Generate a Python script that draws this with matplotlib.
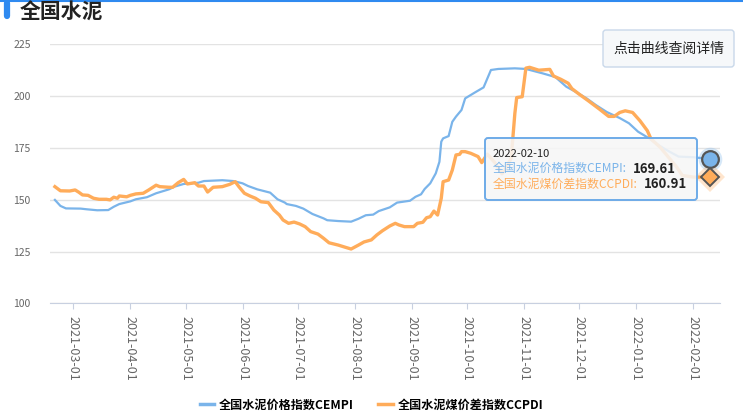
import matplotlib
matplotlib.use('Agg')
import matplotlib.pyplot as plt
import matplotlib.dates as mdates
from matplotlib.lines import Line2D
from matplotlib.patches import FancyBboxPatch
import pandas as pd

# ---------------- data ----------------
cempi_dates = [
    '2021-02-19', '2021-02-22', '2021-02-25', '2021-03-05', '2021-03-08', '2021-03-14',
    '2021-03-20', '2021-03-23', '2021-03-26', '2021-04-01', '2021-04-04', '2021-04-10',
    '2021-04-15', '2021-04-22', '2021-04-25', '2021-04-30', '2021-05-08', '2021-05-11',
    '2021-05-21', '2021-05-27', '2021-06-01', '2021-06-04', '2021-06-09', '2021-06-16',
    '2021-06-20', '2021-06-24', '2021-06-25', '2021-06-30', '2021-07-04', '2021-07-09',
    '2021-07-15', '2021-07-17', '2021-07-23', '2021-07-30', '2021-08-03', '2021-08-07',
    '2021-08-11', '2021-08-14', '2021-08-20', '2021-08-24', '2021-08-31', '2021-09-03',
    '2021-09-06', '2021-09-08', '2021-09-11', '2021-09-14', '2021-09-16', '2021-09-17',
    '2021-09-18', '2021-09-21', '2021-09-23', '2021-09-25', '2021-09-28', '2021-09-30',
    '2021-10-05', '2021-10-10', '2021-10-14', '2021-10-18', '2021-10-27', '2021-11-02',
    '2021-11-11', '2021-11-18', '2021-11-24', '2021-11-29', '2021-12-05', '2021-12-10',
    '2021-12-16', '2021-12-23', '2021-12-28', '2022-01-02', '2022-01-08', '2022-01-13',
    '2022-01-19', '2022-01-24', '2022-02-01', '2022-02-10',
]
cempi_vals = [
    149.9, 147.0, 145.8, 145.7, 145.4, 144.9,
    145.0, 146.6, 147.9, 149.2, 150.2, 151.2,
    153.1, 155.0, 156.3, 157.6, 158.2, 159.0,
    159.4, 159.0, 157.9, 156.6, 155.0, 153.4,
    150.2, 148.6, 147.9, 147.0, 145.7, 143.1,
    141.0, 140.1, 139.7, 139.4, 140.8, 142.5,
    142.8, 144.5, 146.3, 148.6, 149.5, 151.4,
    152.6, 155.2, 157.9, 162.7, 168.3, 178.0,
    179.6, 180.7, 187.6, 190.1, 193.3, 198.9,
    201.6, 204.2, 212.6, 213.1, 213.4, 213.1,
    211.0, 209.2, 204.5, 202.1, 198.9, 195.7,
    192.3, 189.4, 186.9, 182.8, 179.6, 176.4,
    173.2, 170.8, 170.5, 169.61,
]

ccpdi_dates = [
    '2021-02-19', '2021-02-22', '2021-02-27', '2021-03-02', '2021-03-04', '2021-03-06',
    '2021-03-09', '2021-03-12', '2021-03-15', '2021-03-19', '2021-03-21', '2021-03-23',
    '2021-03-25', '2021-03-26', '2021-03-30', '2021-04-01', '2021-04-04', '2021-04-08',
    '2021-04-11', '2021-04-15', '2021-04-17', '2021-04-22', '2021-04-24', '2021-04-27',
    '2021-04-30', '2021-05-02', '2021-05-06', '2021-05-08', '2021-05-11', '2021-05-13',
    '2021-05-16', '2021-05-21', '2021-05-25', '2021-05-28', '2021-05-30', '2021-06-02',
    '2021-06-05', '2021-06-08', '2021-06-11', '2021-06-15', '2021-06-18', '2021-06-21',
    '2021-06-23', '2021-06-26', '2021-06-29', '2021-07-02', '2021-07-05', '2021-07-08',
    '2021-07-12', '2021-07-15', '2021-07-18', '2021-07-23', '2021-07-27', '2021-07-30',
    '2021-08-03', '2021-08-06', '2021-08-10', '2021-08-13', '2021-08-16', '2021-08-20',
    '2021-08-23', '2021-08-25', '2021-08-28', '2021-09-02', '2021-09-04', '2021-09-07',
    '2021-09-09', '2021-09-11', '2021-09-13', '2021-09-15', '2021-09-17', '2021-09-18',
    '2021-09-21', '2021-09-23', '2021-09-25', '2021-09-27', '2021-09-28', '2021-09-30',
    '2021-10-03', '2021-10-07', '2021-10-09', '2021-10-12', '2021-10-16', '2021-10-20',
    '2021-10-22', '2021-10-25', '2021-10-27', '2021-10-28', '2021-10-31', '2021-11-02',
    '2021-11-04', '2021-11-09', '2021-11-15', '2021-11-17', '2021-11-21', '2021-11-25',
    '2021-11-27', '2021-12-01', '2021-12-06', '2021-12-12', '2021-12-17', '2021-12-20',
    '2021-12-23', '2021-12-26', '2021-12-30', '2022-01-03', '2022-01-07', '2022-01-09',
    '2022-01-14', '2022-01-17', '2022-01-20', '2022-01-23', '2022-01-26', '2022-02-01',
    '2022-02-10',
]
ccpdi_vals = [
    156.3, 154.3, 154.2, 154.7, 153.6, 152.3,
    152.1, 150.7, 150.2, 150.2, 149.9, 151.2,
    150.7, 151.8, 151.4, 152.1, 152.8, 153.1,
    154.7, 157.0, 156.3, 156.0, 156.0, 158.2,
    159.8, 157.6, 158.2, 156.6, 156.6, 153.7,
    156.0, 156.3, 157.4, 158.7, 156.3, 153.1,
    151.8, 150.7, 149.0, 148.6, 145.0, 142.6,
    140.2, 138.6, 139.2, 138.3, 137.0, 134.6,
    133.4, 131.4, 129.2, 128.1, 127.0, 126.2,
    128.1, 129.6, 130.6, 133.0, 135.0, 137.3,
    138.6, 137.8, 137.0, 137.0, 138.6, 139.1,
    141.3, 141.8, 144.5, 142.6, 150.7, 158.7,
    159.5, 164.3, 171.6, 171.9, 173.2, 173.2,
    172.4, 170.8, 167.9, 172.0, 168.0, 162.5,
    165.0, 170.0, 191.7, 199.3, 199.7, 213.5,
    213.9, 212.5, 212.9, 209.7, 208.1, 206.2,
    203.6, 200.9, 197.7, 193.7, 190.2, 190.2,
    192.1, 192.9, 192.1, 188.1, 183.3, 179.3,
    175.3, 172.1, 168.9, 165.7, 161.7, 160.9,
    160.91,
]

series_names = ['全国水泥价格指数CEMPI', '全国水泥煤价差指数CCPDI']
y_ticks = [100, 125, 150, 175, 200, 225]
month_ticks = pd.date_range('2021-03-01', '2022-02-01', freq='MS')

# ---------------- style ----------------
W, H = 743, 419
BLUE = '#7ab4ea'
ORANGE = '#ffac5a'
plt.rcParams['font.family'] = ['Noto Sans CJK SC', 'DejaVu Sans']

fig = plt.figure(figsize=(W / 100, H / 100), dpi=100)
ax = fig.add_axes([50 / W, 1 - 303.3 / H, 670 / W, 259 / H])

d1 = pd.to_datetime(cempi_dates)
d2 = pd.to_datetime(ccpdi_dates)
ax.plot(d1, cempi_vals, color=BLUE, lw=1.6, zorder=3)
ax.plot(d2, ccpdi_vals, color=ORANGE, lw=2.4, zorder=3)

# end-point markers with halo
ax.plot(d1[-1], cempi_vals[-1], 'o', ms=17, color=BLUE, alpha=0.3, mew=0, clip_on=False, zorder=5)
ax.plot(d1[-1], cempi_vals[-1], 'o', ms=12, mfc=BLUE, mec='#555555', mew=1.6, clip_on=False, zorder=6)
ax.plot(d2[-1], ccpdi_vals[-1], 'D', ms=15, color=ORANGE, alpha=0.3, mew=0, clip_on=False, zorder=5)
ax.plot(d2[-1], ccpdi_vals[-1], 'D', ms=9, mfc=ORANGE, mec='#555555', mew=1.4, clip_on=False, zorder=6)

ax.set_ylim(100, 225)
ax.set_xlim(pd.Timestamp('2021-02-16 08:00'), pd.Timestamp('2022-02-15 12:00'))
ax.set_yticks(y_ticks)
ax.set_xticks(month_ticks)
ax.xaxis.set_major_formatter(mdates.DateFormatter('%Y-%m-%d'))
ax.grid(axis='y', color='#e3e3e3', lw=1)
ax.set_axisbelow(True)
for s in ['top', 'right', 'left']:
    ax.spines[s].set_visible(False)
ax.spines['bottom'].set_color('#c8d0e0')
ax.tick_params(axis='y', length=0, pad=14, labelsize=7.5, labelcolor='#666666')
ax.tick_params(axis='x', length=4, color='#c8d0e0', pad=5, labelsize=9, labelcolor='#666666')
for lbl in ax.get_xticklabels():
    lbl.set_rotation(270)
    lbl.set_va('top')
    lbl.set_ha('center')

# ---------------- overlay in pixel coordinates ----------------
ov = fig.add_axes([0, 0, 1, 1], zorder=10)
ov.set_xlim(0, W)
ov.set_ylim(H, 0)
ov.axis('off')

ov.add_line(Line2D([0, W], [0.6, 0.6], lw=1.5, color='#2f8af0'))
ov.add_line(Line2D([6.5, 6.5], [3, 16], lw=4.5, color='#2f8af0', solid_capstyle='round'))
ov.text(20, 12, '全国水泥', fontsize=15, fontweight='bold', color='#222222', va='center')

ov.add_patch(FancyBboxPatch((603, 30), 131, 37, boxstyle='round,pad=0,rounding_size=3',
                            fc='#f6f8fa', ec='#c9d8ea', lw=1))
ov.text(668.5, 48.5, '点击曲线查阅详情', fontsize=10, color='#222222', ha='center', va='center')

# tooltip
ov.add_patch(FancyBboxPatch((485, 138), 212, 62, boxstyle='round,pad=0,rounding_size=3',
                            fc=(0.965, 0.965, 0.965, 0.88), ec='#6eabe8', lw=1.4))
ov.text(493, 154, cempi_dates[-1], fontsize=8, color='#222222', va='center')
rows = [(series_names[0], cempi_vals[-1], BLUE, 168.5),
        (series_names[1], ccpdi_vals[-1], ORANGE, 184)]
for name, val, col, yy in rows:
    t = ov.text(493, yy, name + ':', fontsize=8.6, color=col, va='center')
    ov.annotate(f'{val:.2f}', xy=(1, 0.5), xycoords=t, xytext=(4, 0), textcoords='offset points',
                fontsize=9.5, fontweight='bold', color='#222222', va='center')

# legend
handles = [Line2D([], [], color=BLUE, lw=2.5), Line2D([], [], color=ORANGE, lw=2.5)]
fig.legend(handles, series_names, loc='center', bbox_to_anchor=(0.5, 1 - 405 / H), ncol=2,
           frameon=False, handlelength=1.2, handletextpad=0.4, columnspacing=2.0,
           prop={'weight': 'bold', 'size': 8.7})

fig.savefig('out.png', dpi=100)
